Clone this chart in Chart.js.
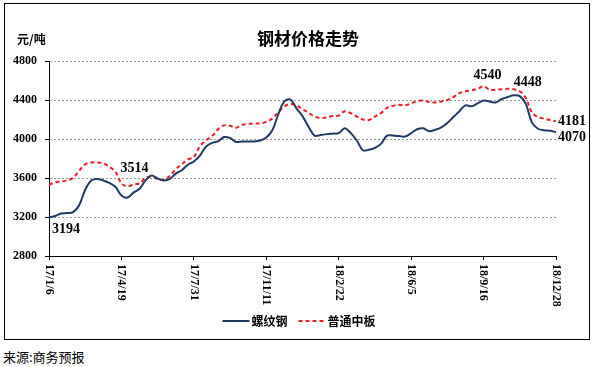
<!DOCTYPE html>
<html>
<head>
<meta charset="utf-8">
<script src="https://cdn.jsdelivr.net/npm/chart.js@4"></script>
<style>
  body { margin: 0; background: #fff; width: 592px; height: 367px; position: relative; }
  #box { position: absolute; left: 4px; top: 3px; width: 584px; height: 335px; border: 1px solid #000; }
  #src { position: absolute; left: 3px; top: 348px; font: 13px/18px "Noto Sans CJK SC"; color: #000; }
</style>
</head>
<body>
<div id="box"><canvas id="steelChart" width="584" height="335"></canvas></div>
<div id="src">来源:商务预报</div>
<script>
const chartTitle = "钢材价格走势";
const unitLabel = "元/吨";
const seriesNames = ["螺纹钢", "普通中板"];
const tickLabels = ["17/1/6", "17/4/19", "17/7/31", "17/11/11", "18/2/22", "18/6/5", "18/9/16", "18/12/28"];
const yTicks = [2800, 3200, 3600, 4000, 4400, 4800];

// 螺纹钢 (元/吨)
const rebar = [
  3194, 3210, 3235, 3240, 3250, 3320, 3480, 3575, 3590, 3575, 3550, 3510,
  3420, 3400, 3450, 3490, 3575, 3625, 3595, 3575, 3590, 3645, 3680, 3735,
  3770, 3830, 3920, 3960, 3975, 4020, 4010, 3970, 3975, 3975, 3975, 3985,
  4015, 4090, 4255, 4385, 4405, 4315, 4235, 4125, 4035, 4040, 4050, 4055,
  4060, 4110, 4060, 3985, 3885, 3890, 3910, 3950, 4035, 4035, 4030, 4025,
  4060, 4100, 4110, 4080, 4095, 4120, 4165, 4225, 4285, 4345, 4335, 4365,
  4395, 4385, 4375, 4410, 4430, 4448, 4440, 4360, 4170, 4105, 4090, 4085, 4070
];
// 普通中板 (元/吨)
const plate = [
  3530, 3555, 3565, 3575, 3600, 3675, 3740, 3760, 3760, 3750, 3715, 3665,
  3545, 3514, 3535, 3545, 3600, 3615, 3590, 3580, 3620, 3690, 3740, 3790,
  3815, 3925, 3985, 4030, 4100, 4140, 4135, 4115, 4145, 4155, 4160, 4160,
  4175, 4210, 4275, 4335, 4360, 4345, 4305, 4270, 4230, 4215, 4220, 4235,
  4240, 4285, 4265, 4230, 4200, 4195, 4230, 4265, 4320, 4340, 4350, 4345,
  4365, 4390, 4395, 4380, 4375, 4385, 4400, 4430, 4470, 4490, 4500, 4515,
  4540, 4505, 4505, 4510, 4515, 4510, 4490, 4420, 4275, 4225, 4210, 4195, 4181
];

// one category per data point, named only where the axis shows a date
const pointsPerTick = 12;
const labels = [];
tickLabels.forEach((t, k) => {
  if (k > 0) for (let j = 1; j < pointsPerTick; j++) labels.push("");
  labels.push(t);
});

// value call-outs: which series / point, and where the text sits
const callouts = [
  { ds: 0, i: 0, dx: 3, dy: 12, align: "left" },
  { ds: 1, i: 13, dx: 7, dy: -18, align: "center" },
  { ds: 1, i: 72, dx: 4, dy: -11, align: "center" },
  { ds: 0, i: 77, dx: 14, dy: -13, align: "center" },
  { ds: 1, i: 84, dx: 2, dy: 0, align: "left" },
  { ds: 0, i: 84, dx: 2, dy: 5, align: "left" }
];

const decor = {
  id: "decor",
  afterDraw(chart) {
    const { ctx, chartArea, scales: { x } } = chart;
    ctx.save();
    ctx.fillStyle = "#000";
    ctx.textBaseline = "middle";

    ctx.font = 'bold 17px "Noto Sans CJK SC"';
    ctx.textAlign = "center";
    ctx.fillText(chartTitle, 303, 35);

    ctx.font = 'bold 12px "Noto Sans CJK SC"';
    ctx.textAlign = "left";
    ctx.fillText(unitLabel, 12, 35);

    // x labels, turned clockwise
    ctx.font = 'bold 12px "Liberation Serif"';
    labels.forEach((lab, i) => {
      if (!lab) return;
      ctx.save();
      ctx.translate(x.getPixelForValue(i), chartArea.bottom + 8);
      ctx.rotate(Math.PI / 2);
      ctx.textAlign = "left";
      ctx.fillText(lab, 0, 0);
      ctx.restore();
    });

    // call-outs
    ctx.font = 'bold 14px "Liberation Serif"';
    callouts.forEach(c => {
      const pt = chart.getDatasetMeta(c.ds).data[c.i];
      const v = chart.data.datasets[c.ds].data[c.i];
      ctx.textAlign = c.align;
      ctx.fillText(String(v), pt.x + c.dx, pt.y + c.dy);
    });

    // legend
    ctx.font = 'bold 12px "Noto Sans CJK SC"';
    ctx.textAlign = "left";
    const sample = 27, gapIn = 2, gapOut = 11, ly = 317;
    const sets = chart.data.datasets;
    let total = 0;
    sets.forEach((d, k) => { total += sample + gapIn + ctx.measureText(d.label).width + (k ? gapOut : 0); });
    let lx = chart.width / 2 + 2 - total / 2;
    sets.forEach((d, k) => {
      if (k) lx += gapOut;
      ctx.save();
      ctx.strokeStyle = d.borderColor;
      ctx.lineWidth = 2;
      ctx.setLineDash(d.borderDash || []);
      ctx.beginPath();
      ctx.moveTo(lx, ly);
      ctx.lineTo(lx + sample, ly);
      ctx.stroke();
      ctx.restore();
      lx += sample + gapIn;
      ctx.fillText(d.label, lx, ly);
      lx += ctx.measureText(d.label).width;
    });
    ctx.restore();
  }
};

new Chart(document.getElementById("steelChart"), {
  type: "line",
  data: {
    labels,
    datasets: [
      {
        label: seriesNames[0],
        data: rebar,
        borderColor: "#1f3a63",
        borderWidth: 2,
        pointRadius: 0,
        tension: 0.35
      },
      {
        label: seriesNames[1],
        data: plate,
        borderColor: "#ee1c25",
        borderWidth: 2,
        borderDash: [4, 3],
        pointRadius: 0,
        tension: 0.35
      }
    ]
  },
  options: {
    responsive: false,
    animation: false,
    layout: { padding: { left: 0, right: 33, top: 57, bottom: 0 } },
    plugins: { legend: { display: false }, title: { display: false }, tooltip: { enabled: false } },
    scales: {
      x: {
        ticks: { display: false },
        grid: {
          drawOnChartArea: false,
          drawTicks: true,
          tickLength: 4,
          tickColor: c => (labels[c.index] ? "#000" : "rgba(0,0,0,0)")
        },
        border: { color: "#000", width: 1 },
        afterFit: s => { s.height = 83; }
      },
      y: {
        min: yTicks[0],
        max: yTicks[yTicks.length - 1],
        afterBuildTicks: s => { s.ticks = yTicks.map(v => ({ value: v })); },
        ticks: {
          color: "#000",
          padding: 8,
          font: { family: "Liberation Serif", size: 12, weight: "bold" },
          callback: v => String(v)
        },
        grid: { color: "#9a9a9a", lineWidth: 1, tickLength: 4, tickColor: "#000", tickBorderDash: [] },
        border: { color: "#000", width: 1, dash: [2, 2] },
        afterFit: s => { s.width = 44; }
      }
    }
  },
  plugins: [decor]
});
</script>
</body>
</html>
